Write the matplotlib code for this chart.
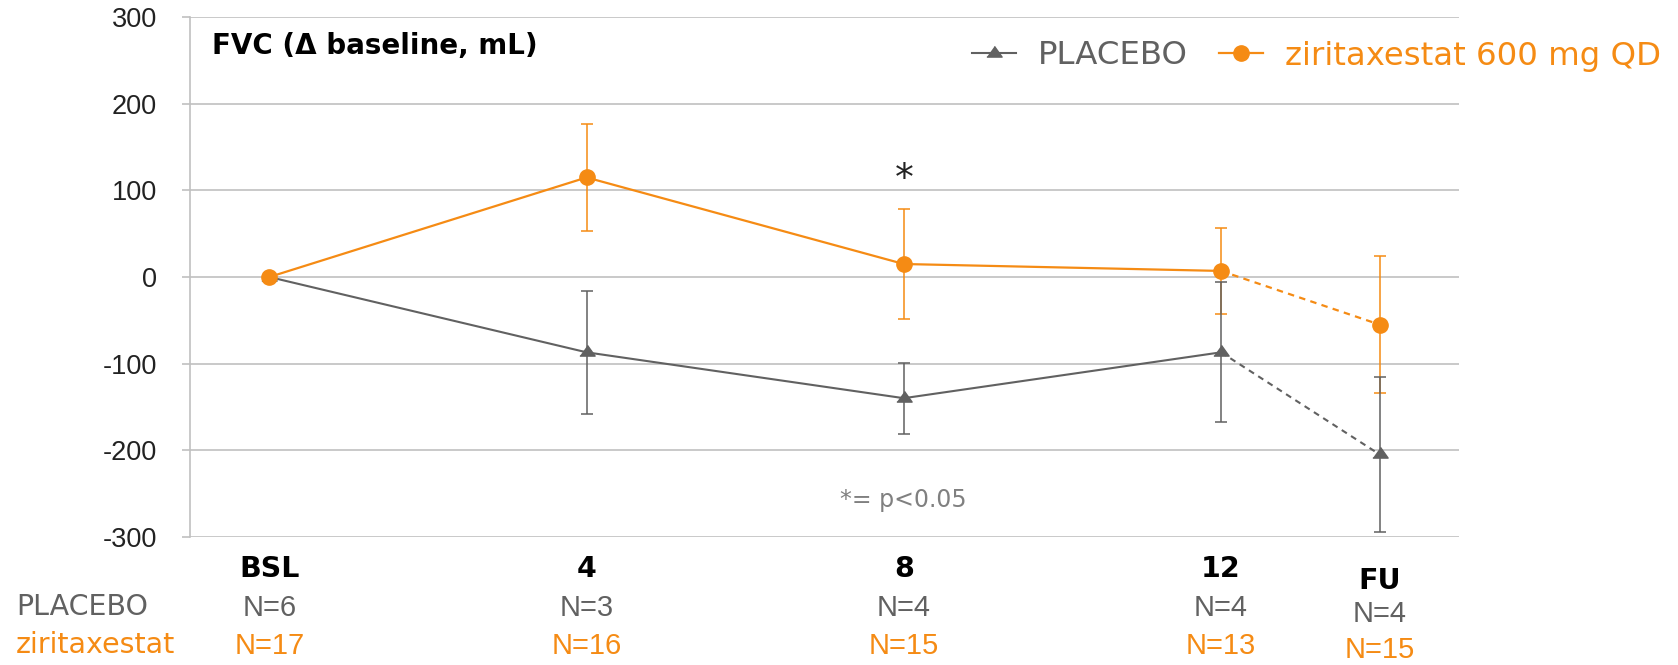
import matplotlib
matplotlib.use('Agg')
import matplotlib.pyplot as plt
from matplotlib.lines import Line2D
from matplotlib.transforms import blended_transform_factory

# visits (weeks) and FVC change from baseline, mL
weeks = [0, 4, 8, 12, 14]
visit_labels = ['BSL', '4', '8', '12', 'FU']
placebo_mean = [0, -87, -140, -87, -205]
placebo_err = [0, 71, 41, 81, 90]
zir_mean = [0, 115, 15, 7, -55]
zir_err = [0, 62, 63, 50, 79]
placebo_n = [6, 3, 4, 4, 4]
zir_n = [17, 16, 15, 13, 15]
yticks = [-300, -200, -100, 0, 100, 200, 300]

ORANGE = '#F58B14'
GRAY = '#616161'
GRID = '#C0C0C0'
NUMFONT = 'Liberation Sans'

plt.rcParams['font.family'] = 'DejaVu Sans'

W, H = 1678, 665
fig = plt.figure(figsize=(W / 100, H / 100), dpi=100)
ax = fig.add_axes([190 / W, 1 - 536.7 / H, (1459 - 190) / W, (536.7 - 17.3) / H])

ax.set_xlim(-1, 15)
ax.set_ylim(-300, 300)
ax.set_yticks(yticks)
ax.set_yticklabels([str(v) for v in yticks], fontsize=19.5, color='#222222',
                   family=NUMFONT)
ax.set_xticks([])
ax.grid(axis='y', color=GRID, linewidth=1.2)
ax.set_axisbelow(True)
ax.tick_params(axis='y', length=6, width=1.2, color=GRID, pad=18)
for side in ['top', 'right', 'bottom']:
    ax.spines[side].set_visible(False)
ax.spines['left'].set_color(GRID)
ax.spines['left'].set_linewidth(1.2)

tri = [(-1, -0.47), (1, -0.47), (0, 0.93)]

# error bars (no bar at baseline)
ax.errorbar(weeks[1:], zir_mean[1:], yerr=zir_err[1:], fmt='none',
            ecolor=ORANGE, elinewidth=1.1, capsize=4, capthick=1.1, zorder=2)
ax.errorbar(weeks[1:], placebo_mean[1:], yerr=placebo_err[1:], fmt='none',
            ecolor=GRAY, elinewidth=1.1, capsize=4, capthick=1.1, zorder=3)

# solid through week 12, dashed to follow-up
ax.plot(weeks[:4], placebo_mean[:4], color=GRAY, lw=1.5, zorder=4)
ax.plot(weeks[3:], placebo_mean[3:], color=GRAY, lw=1.5, ls=(0, (2.9, 2.4)), zorder=4)
ax.plot(weeks[:4], zir_mean[:4], color=ORANGE, lw=1.6, zorder=5)
ax.plot(weeks[3:], zir_mean[3:], color=ORANGE, lw=1.6, ls=(0, (2.9, 2.4)), zorder=5)
ax.plot(weeks, placebo_mean, ls='none', marker=tri, ms=11, color=GRAY, zorder=6)
ax.plot(weeks, zir_mean, ls='none', marker='o', ms=11, color=ORANGE, zorder=7)

ax.text(8, 112, '*', ha='center', va='center', fontsize=27, color='#222222')
ax.text(8, -258, '*= p<0.05', ha='center', va='center', fontsize=17, color='#808080')

fig.text(211.7 / W, 1 - 46 / H, 'FVC (\u0394 baseline, mL)', fontsize=20,
         fontweight='bold', ha='left', va='center')

# legend
handles = [
    Line2D([], [], color=GRAY, lw=1.5, marker=tri, ms=11),
    Line2D([], [], color=ORANGE, lw=1.6, marker='o', ms=11),
]
leg = fig.legend(handles, ['PLACEBO', 'ziritaxestat 600 mg QD'], ncol=2,
                 loc='center left', bbox_to_anchor=(972 / W, 1 - 56 / H),
                 frameon=False, fontsize=23.3, handlelength=1.35,
                 handletextpad=0.7, columnspacing=0.95,
                 borderpad=0, borderaxespad=0)
for txt, c in zip(leg.get_texts(), [GRAY, ORANGE]):
    txt.set_color(c)

# visit labels and group sizes under the axis
tr = blended_transform_factory(ax.transData, fig.transFigure)
for i, (wk, lab) in enumerate(zip(weeks, visit_labels)):
    last = i == len(weeks) - 1
    ax.text(wk, 1 - (581 if last else 569) / H, lab, transform=tr, ha='center',
            va='center', fontsize=20.5, fontweight='bold', color='black', clip_on=False)
    ax.text(wk, 1 - (614 if last else 608) / H, f'N={placebo_n[i]}', transform=tr,
            ha='center', va='center', fontsize=21, color=GRAY, family=NUMFONT,
            clip_on=False)
    ax.text(wk, 1 - (650 if last else 646) / H, f'N={zir_n[i]}', transform=tr,
            ha='center', va='center', fontsize=21, color=ORANGE, family=NUMFONT,
            clip_on=False)

fig.text(16 / W, 1 - 607 / H, 'PLACEBO', fontsize=20.5, color=GRAY, ha='left', va='center')
fig.text(16 / W, 1 - 645 / H, 'ziritaxestat', fontsize=20.5, color=ORANGE, ha='left', va='center')

fig.savefig('out.png', dpi=100, facecolor='white')
